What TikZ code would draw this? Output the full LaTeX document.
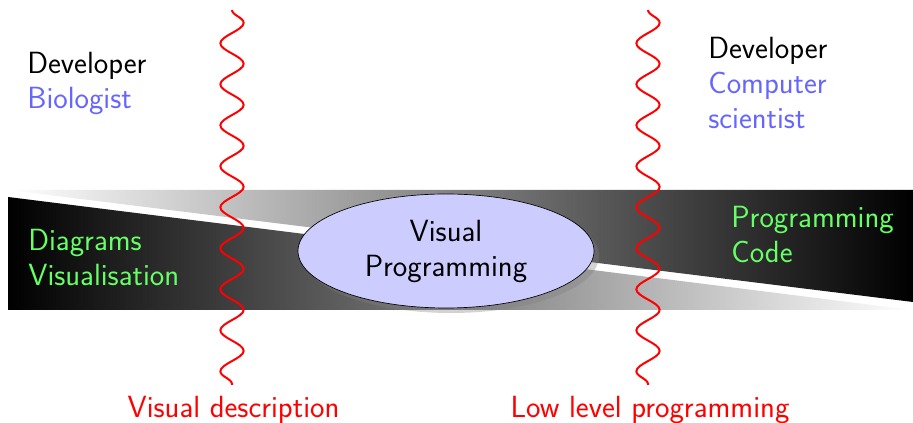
\documentclass[tikz,border=0pt]{standalone}
\usetikzlibrary{shapes.geometric,shadows,decorations.pathmorphing}
\definecolor{roleblue}{RGB}{102,102,255}
\definecolor{fieldgreen}{RGB}{102,255,102}
\definecolor{vpfill}{RGB}{204,204,255}
\begin{document}
\begin{tikzpicture}[x=0.6pt,y=-0.6pt,
  every node/.style={font=\fontsize{18.4}{21}\selectfont\sffamily},
  txt/.style={inner sep=0pt,anchor=north west,align=left},
  field/.style={txt,text=fieldgreen},
  border/.style={red,line width=1.2pt,decorate,
    decoration={snake,segment length=24.6pt,amplitude=7pt}},
  bordertext/.style={text=red,anchor=base,inner sep=0pt},
  vp/.style={ellipse,draw=black,fill=vpfill,inner sep=0pt,
    minimum width=177.6pt,minimum height=68.4pt,align=center,
    drop shadow={shadow xshift=3pt,shadow yshift=-3pt,opacity=0.35}}]
\useasboundingbox (0,0) rectangle (913,423);

% the two shaded wedges of the band
\shade[left color=white,right color=black] (8,190) -- (913,190) -- (913,302) -- cycle;
\shade[left color=black,right color=white] (8,197) -- (8,310) -- (913,310) -- cycle;

% roles
\node[txt] (devleft) at (27,52.2) {Developer\\\textcolor{roleblue}{Biologist}};
\node[txt] (devright) at (708,37.2) {Developer\\\textcolor{roleblue}{Computer}\\\textcolor{roleblue}{scientist}};

% fields inside the band
\node[field] (diagrams) at (28,228.7) {Diagrams\\Visualisation};
\node[field] (code) at (731,205.7) {Programming\\Code};

% central ellipse
\node[vp] (vp) at (446,251) {Visual\\Programming};

% wavy borders
\coordinate (lt) at (232,10);
\coordinate (lb) at (232,385);
\coordinate (rt) at (648,10);
\coordinate (rb) at (648,385);
\draw[border] (lt) -- (lb);
\draw[border] (rt) -- (rb);

% border labels
\node[bordertext] (vdesc) at (233.5,418) {Visual description};
\node[bordertext] (lowlevel) at (650,418) {Low level programming};
\end{tikzpicture}
\end{document}
